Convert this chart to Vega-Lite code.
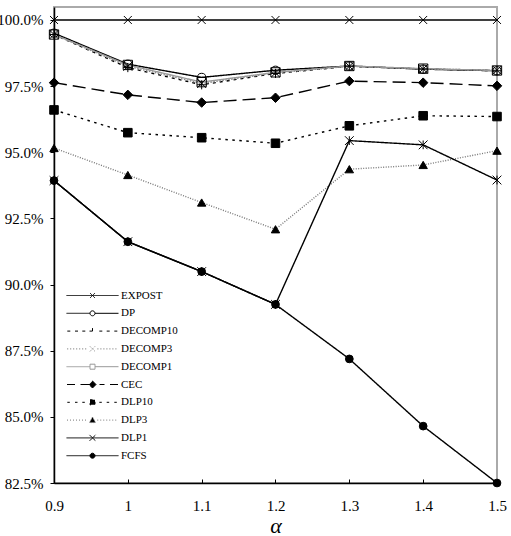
{
  "$schema": "https://vega.github.io/schema/vega-lite/v6.json",
  "width": 443,
  "height": 476,
  "autosize": "none",
  "padding": {"left": 54, "top": 7, "right": 14, "bottom": 53},
  "background": "white",
  "config": {
    "view": {"stroke": "#aaaaaa", "strokeWidth": 2},
    "font": "Liberation Serif",
    "axis": {"grid": false, "domainColor": "black", "tickColor": "black", "labelColor": "black", "labelFont": "Liberation Serif", "labelFontSize": 15, "domainWidth": 1.5, "tickWidth": 1}
  },
  "data": {"values": [
    {"series": "EXPOST", "alpha": 0.9, "value": 1.0},
    {"series": "EXPOST", "alpha": 1.0, "value": 1.0},
    {"series": "EXPOST", "alpha": 1.1, "value": 1.0},
    {"series": "EXPOST", "alpha": 1.2, "value": 1.0},
    {"series": "EXPOST", "alpha": 1.3, "value": 1.0},
    {"series": "EXPOST", "alpha": 1.4, "value": 1.0},
    {"series": "EXPOST", "alpha": 1.5, "value": 1.0},
    {"series": "DP", "alpha": 0.9, "value": 0.995},
    {"series": "DP", "alpha": 1.0, "value": 0.9833},
    {"series": "DP", "alpha": 1.1, "value": 0.9783},
    {"series": "DP", "alpha": 1.2, "value": 0.981},
    {"series": "DP", "alpha": 1.3, "value": 0.9826},
    {"series": "DP", "alpha": 1.4, "value": 0.9814},
    {"series": "DP", "alpha": 1.5, "value": 0.9808},
    {"series": "DECOMP10", "alpha": 0.9, "value": 0.9945},
    {"series": "DECOMP10", "alpha": 1.0, "value": 0.982},
    {"series": "DECOMP10", "alpha": 1.1, "value": 0.9755},
    {"series": "DECOMP10", "alpha": 1.2, "value": 0.9798},
    {"series": "DECOMP10", "alpha": 1.3, "value": 0.9825},
    {"series": "DECOMP10", "alpha": 1.4, "value": 0.9815},
    {"series": "DECOMP10", "alpha": 1.5, "value": 0.9808},
    {"series": "DECOMP3", "alpha": 0.9, "value": 0.9945},
    {"series": "DECOMP3", "alpha": 1.0, "value": 0.9825},
    {"series": "DECOMP3", "alpha": 1.1, "value": 0.976},
    {"series": "DECOMP3", "alpha": 1.2, "value": 0.98},
    {"series": "DECOMP3", "alpha": 1.3, "value": 0.9825},
    {"series": "DECOMP3", "alpha": 1.4, "value": 0.9815},
    {"series": "DECOMP3", "alpha": 1.5, "value": 0.981},
    {"series": "DECOMP1", "alpha": 0.9, "value": 0.9945},
    {"series": "DECOMP1", "alpha": 1.0, "value": 0.983},
    {"series": "DECOMP1", "alpha": 1.1, "value": 0.9765},
    {"series": "DECOMP1", "alpha": 1.2, "value": 0.9802},
    {"series": "DECOMP1", "alpha": 1.3, "value": 0.9826},
    {"series": "DECOMP1", "alpha": 1.4, "value": 0.9816},
    {"series": "DECOMP1", "alpha": 1.5, "value": 0.9809},
    {"series": "CEC", "alpha": 0.9, "value": 0.9763},
    {"series": "CEC", "alpha": 1.0, "value": 0.9717},
    {"series": "CEC", "alpha": 1.1, "value": 0.9688},
    {"series": "CEC", "alpha": 1.2, "value": 0.9706},
    {"series": "CEC", "alpha": 1.3, "value": 0.9769},
    {"series": "CEC", "alpha": 1.4, "value": 0.9763},
    {"series": "CEC", "alpha": 1.5, "value": 0.9751},
    {"series": "DLP10", "alpha": 0.9, "value": 0.966},
    {"series": "DLP10", "alpha": 1.0, "value": 0.9574},
    {"series": "DLP10", "alpha": 1.1, "value": 0.9555},
    {"series": "DLP10", "alpha": 1.2, "value": 0.9534},
    {"series": "DLP10", "alpha": 1.3, "value": 0.96},
    {"series": "DLP10", "alpha": 1.4, "value": 0.9638},
    {"series": "DLP10", "alpha": 1.5, "value": 0.9635},
    {"series": "DLP3", "alpha": 0.9, "value": 0.9516},
    {"series": "DLP3", "alpha": 1.0, "value": 0.9414},
    {"series": "DLP3", "alpha": 1.1, "value": 0.931},
    {"series": "DLP3", "alpha": 1.2, "value": 0.9209},
    {"series": "DLP3", "alpha": 1.3, "value": 0.9436},
    {"series": "DLP3", "alpha": 1.4, "value": 0.9452},
    {"series": "DLP3", "alpha": 1.5, "value": 0.9506},
    {"series": "DLP1", "alpha": 0.9, "value": 0.9393},
    {"series": "DLP1", "alpha": 1.0, "value": 0.9162},
    {"series": "DLP1", "alpha": 1.1, "value": 0.9049},
    {"series": "DLP1", "alpha": 1.2, "value": 0.8925},
    {"series": "DLP1", "alpha": 1.3, "value": 0.9544},
    {"series": "DLP1", "alpha": 1.4, "value": 0.9528},
    {"series": "DLP1", "alpha": 1.5, "value": 0.9395},
    {"series": "FCFS", "alpha": 0.9, "value": 0.9393},
    {"series": "FCFS", "alpha": 1.0, "value": 0.9162},
    {"series": "FCFS", "alpha": 1.1, "value": 0.9049},
    {"series": "FCFS", "alpha": 1.2, "value": 0.8925},
    {"series": "FCFS", "alpha": 1.3, "value": 0.8719},
    {"series": "FCFS", "alpha": 1.4, "value": 0.8465},
    {"series": "FCFS", "alpha": 1.5, "value": 0.825}
  ]},
  "encoding": {
    "x": {
      "field": "alpha", "type": "quantitative",
      "scale": {"domain": [0.9, 1.5], "nice": false, "zero": false},
      "axis": {
        "title": "α", "titleFont": "Liberation Serif", "titleFontStyle": "italic", "titleFontWeight": "normal", "titleFontSize": 22, "titleColor": "black",
        "titleBaseline": "alphabetic", "titleY": 49,
        "values": [0.9, 1.0, 1.1, 1.2, 1.3, 1.4, 1.5], "format": "~g",
        "labelFlush": false, "labelOverlap": false, "tickSize": -4, "labelPadding": 19
      }
    },
    "y": {
      "field": "value", "type": "quantitative",
      "scale": {"domain": [0.825, 1.0049], "nice": false, "zero": false},
      "axis": {
        "title": null,
        "values": [0.825, 0.85, 0.875, 0.9, 0.925, 0.95, 0.975, 1.0], "format": ".1%",
        "tickSize": 4, "labelPadding": 7, "labelOverlap": false, "labelFlush": false
      }
    }
  },
  "layer": [
    {
      "mark": {"type": "line", "strokeWidth": 1.4},
      "encoding": {
        "color": {
          "field": "series", "type": "nominal",
          "scale": {
            "domain": ["EXPOST", "DP", "DECOMP10", "DECOMP3", "DECOMP1", "CEC", "DLP10", "DLP3", "DLP1", "FCFS"],
            "range": ["black", "black", "black", "#888888", "#999999", "black", "black", "#777777", "black", "black"]
          },
          "legend": {
            "title": null,
            "orient": "none", "legendX": 33, "legendY": 283,
            "padding": 0, "rowPadding": 5.8,
            "symbolSize": 100, "symbolStrokeWidth": 1, "labelOffset": 23,
            "labelFont": "Liberation Serif", "labelFontSize": 11, "labelColor": "black", "labelBaseline": "middle",
            "encode": {
              "symbols": {
                "update": {
                  "strokeDash": {"value": [1, 0]},
                  "fill": {"signal": "(datum.value === 'DP' || datum.value === 'DECOMP1') ? 'white' : 'black'"},
                  "shape": {"signal": "({'EXPOST': 'M-5.2,0H5.2M-0.5,-0.5L0.5,0.5M-0.5,0.5L0.5,-0.5', 'DP': 'M-5.2,0H-0.5M0.5,0H5.2M-0.5,0A0.5,0.5 0 1,0 0.5,0A0.5,0.5 0 1,0 -0.5,0Z', 'DECOMP10': 'M-5.04,0H-4.36M-3.5,0H-2.84M-2.04,0H-1.36M1.36,0H2.04M2.84,0H3.5M4.36,0H5.04M-0.6,0H0.6M0,-0.6V0.6', 'DECOMP3': 'M-5.1,0h0.25M-4.5,0h0.25M-3.9,0h0.25M-3.3,0h0.25M-2.7,0h0.25M-2.1,0h0.25M-1.5,0h0.25M0.95,0h0.25M1.55,0h0.25M2.15,0h0.25M2.75,0h0.25M3.35,0h0.25M3.95,0h0.25M4.55,0h0.25M-0.5,-0.5L0.5,0.5M-0.5,0.5L0.5,-0.5', 'DECOMP1': 'M-5.2,0H-0.5M0.5,0H5.2M-0.5,-0.5H0.5V0.5H-0.5Z', 'CEC': 'M-5.1,0H-3.5M-2.4,0H2.4M3.5,0H5.1M0,-0.7L0.7,0L0,0.7L-0.7,0Z', 'DLP10': 'M-5.04,0H-4.36M-3.5,0H-2.84M-2.04,0H-1.36M1.36,0H2.04M2.84,0H3.5M4.36,0H5.04M-0.5,-0.5H0.5V0.5H-0.5Z', 'DLP3': 'M-5.1,0h0.25M-4.5,0h0.25M-3.9,0h0.25M-3.3,0h0.25M-2.7,0h0.25M-2.1,0h0.25M-1.5,0h0.25M0.95,0h0.25M1.55,0h0.25M2.15,0h0.25M2.75,0h0.25M3.35,0h0.25M3.95,0h0.25M4.55,0h0.25M0,-0.6L0.6,0.5H-0.6Z', 'DLP1': 'M-5.2,0H5.2M-0.6,-0.6L0.6,0.6M-0.6,0.6L0.6,-0.6', 'FCFS': 'M-5.2,0H5.2M-0.5,0A0.5,0.5 0 1,0 0.5,0A0.5,0.5 0 1,0 -0.5,0Z'})[datum.value]"}
                }
              }
            }
          }
        },
        "strokeDash": {
          "field": "series", "type": "nominal",
          "scale": {
            "domain": ["EXPOST", "DP", "DECOMP10", "DECOMP3", "DECOMP1", "CEC", "DLP10", "DLP3", "DLP1", "FCFS"],
            "range": [[1, 0], [1, 0], [3, 4], [1.5, 1.5], [1, 0], [13, 6], [2.5, 4.5], [1, 1.5], [1, 0], [1, 0]]
          }
        },
        "strokeWidth": {
          "field": "series", "type": "nominal",
          "scale": {
            "range": [1.4, 1.4, 1.3, 1.3, 1.5, 1.5, 1, 1.4, 1.4, 1.4]
          },
          "legend": null
        },
        "detail": {"field": "series"}
      }
    },
    {
      "mark": {"type": "point", "filled": true, "stroke": "black", "strokeWidth": 1, "opacity": 1},
      "encoding": {
        "shape": {
          "field": "series", "type": "nominal",
          "scale": {
            "range": ["diamond", "square", "M-1,0H1M0,-1V1", "M-1,-1L1,1M-1,1L1,-1", "M-1,-1L1,1M-1,1L1,-1M0,-1V1", "square", "triangle-up", "circle", "M-1,-1L1,1M-1,1L1,-1", "circle"]
          },
          "legend": null
        },
        "fill": {
          "field": "series", "type": "nominal",
          "scale": {
            "range": ["black", "transparent", "black", "black", "black", "black", "black", "transparent", "black", "black"]
          },
          "legend": null
        },
        "size": {
          "field": "series", "type": "nominal",
          "scale": {
            "range": [90, 60, 225, 144, 196, 70, 90, 120, 90, 36]
          },
          "legend": null
        }
      }
    }
  ]
}
